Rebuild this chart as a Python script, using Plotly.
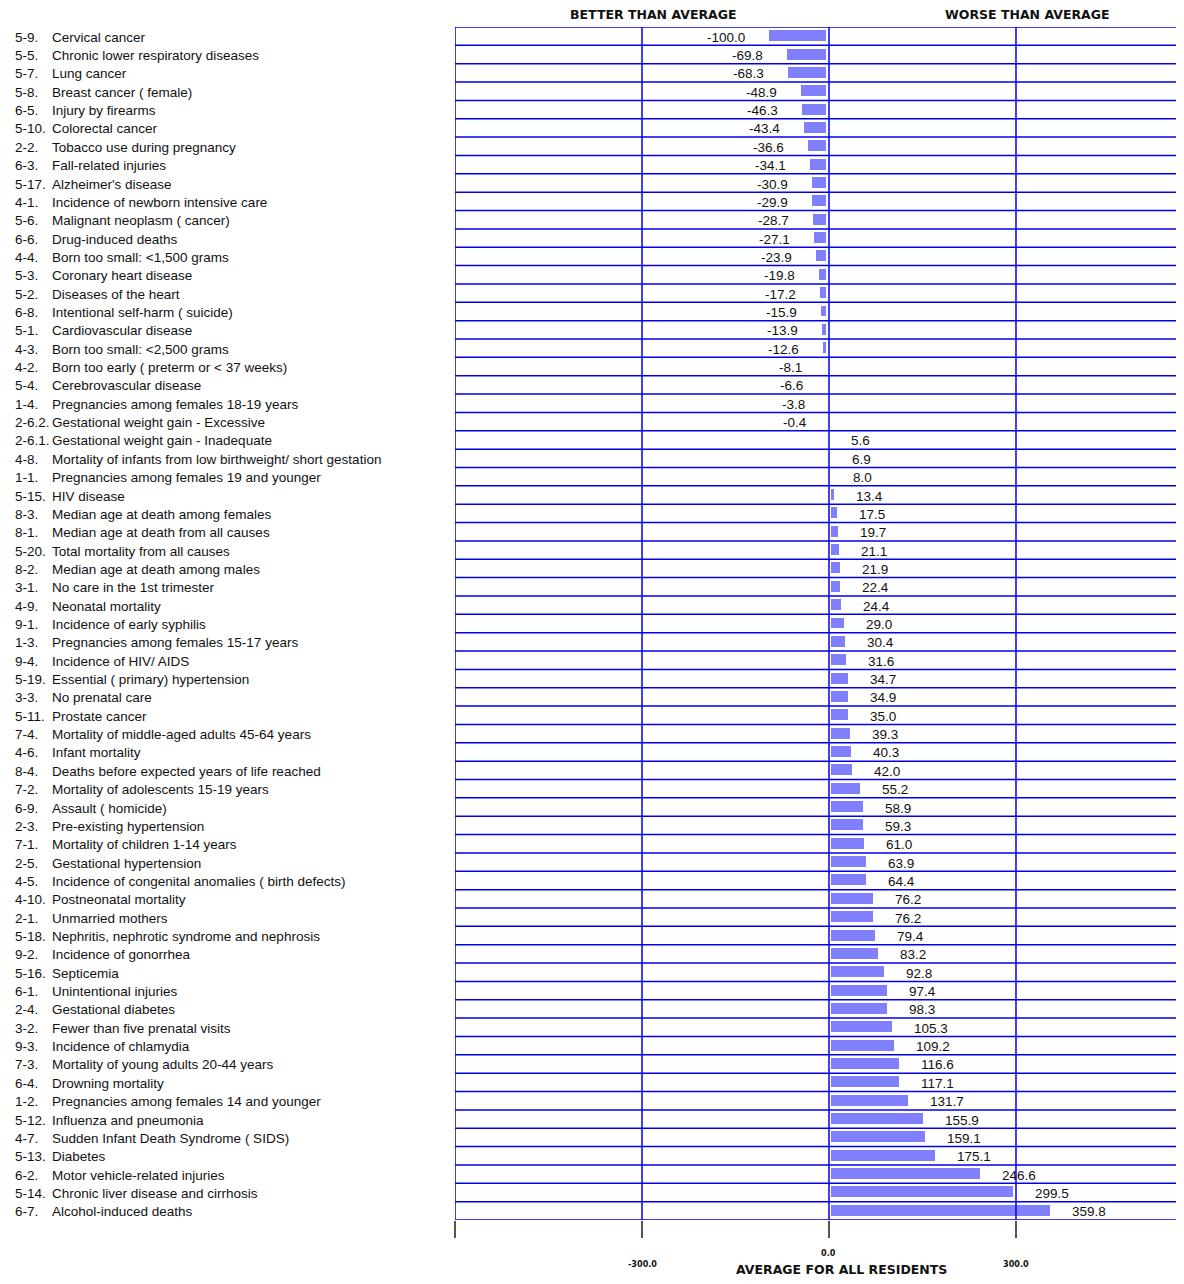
import plotly.graph_objects as go

codes = ["5-9.", "5-5.", "5-7.", "5-8.", "6-5.", "5-10.", "2-2.", "6-3.", "5-17.", "4-1.",
         "5-6.", "6-6.", "4-4.", "5-3.", "5-2.", "6-8.", "5-1.", "4-3.", "4-2.", "5-4.",
         "1-4.", "2-6.2.", "2-6.1.", "4-8.", "1-1.", "5-15.", "8-3.", "8-1.", "5-20.", "8-2.",
         "3-1.", "4-9.", "9-1.", "1-3.", "9-4.", "5-19.", "3-3.", "5-11.", "7-4.", "4-6.",
         "8-4.", "7-2.", "6-9.", "2-3.", "7-1.", "2-5.", "4-5.", "4-10.", "2-1.", "5-18.",
         "9-2.", "5-16.", "6-1.", "2-4.", "3-2.", "9-3.", "7-3.", "6-4.", "1-2.", "5-12.",
         "4-7.", "5-13.", "6-2.", "5-14.", "6-7."]

names = ["Cervical cancer", "Chronic lower respiratory diseases", "Lung cancer",
         "Breast cancer ( female)", "Injury by firearms", "Colorectal cancer",
         "Tobacco use during pregnancy", "Fall-related injuries", "Alzheimer's disease",
         "Incidence of newborn intensive care", "Malignant neoplasm ( cancer)",
         "Drug-induced deaths", "Born too small: <1,500 grams", "Coronary heart disease",
         "Diseases of the heart", "Intentional self-harm ( suicide)", "Cardiovascular disease",
         "Born too small: <2,500 grams", "Born too early ( preterm or < 37 weeks)",
         "Cerebrovascular disease", "Pregnancies among females 18-19 years",
         "Gestational weight gain - Excessive", "Gestational weight gain - Inadequate",
         "Mortality of infants from low birthweight/ short gestation",
         "Pregnancies among females 19 and younger", "HIV disease",
         "Median age at death among females", "Median age at death from all causes",
         "Total mortality from all causes", "Median age at death among males",
         "No care in the 1st trimester", "Neonatal mortality", "Incidence of early syphilis",
         "Pregnancies among females 15-17 years", "Incidence of HIV/ AIDS",
         "Essential ( primary) hypertension", "No prenatal care", "Prostate cancer",
         "Mortality of middle-aged adults 45-64 years", "Infant mortality",
         "Deaths before expected years of life reached", "Mortality of adolescents 15-19 years",
         "Assault ( homicide)", "Pre-existing hypertension", "Mortality of children 1-14 years",
         "Gestational hypertension", "Incidence of congenital anomalies ( birth defects)",
         "Postneonatal mortality", "Unmarried mothers",
         "Nephritis, nephrotic syndrome and nephrosis", "Incidence of gonorrhea", "Septicemia",
         "Unintentional injuries", "Gestational diabetes", "Fewer than five prenatal visits",
         "Incidence of chlamydia", "Mortality of young adults 20-44 years", "Drowning mortality",
         "Pregnancies among females 14 and younger", "Influenza and pneumonia",
         "Sudden Infant Death Syndrome ( SIDS)", "Diabetes", "Motor vehicle-related injuries",
         "Chronic liver disease and cirrhosis", "Alcohol-induced deaths"]

values = [-100.0, -69.8, -68.3, -48.9, -46.3, -43.4, -36.6, -34.1, -30.9, -29.9,
          -28.7, -27.1, -23.9, -19.8, -17.2, -15.9, -13.9, -12.6, -8.1, -6.6,
          -3.8, -0.4, 5.6, 6.9, 8.0, 13.4, 17.5, 19.7, 21.1, 21.9,
          22.4, 24.4, 29.0, 30.4, 31.6, 34.7, 34.9, 35.0, 39.3, 40.3,
          42.0, 55.2, 58.9, 59.3, 61.0, 63.9, 64.4, 76.2, 76.2, 79.4,
          83.2, 92.8, 97.4, 98.3, 105.3, 109.2, 116.6, 117.1, 131.7, 155.9,
          159.1, 175.1, 246.6, 299.5, 359.8]

tick_vals = [-600, -300, 0, 300]
tick_text = ["", "-300.0", "0.0", "300.0"]
x_range = [-600, 556.7]

BLUE = "#0000ee"
BAR = "#8080ff"
FONT = "Liberation Sans"
FS = 13.5

n = len(values)
rows = list(range(n))

fig = go.Figure()
fig.add_trace(go.Bar(
    x=values, y=rows, orientation="h", width=0.87,
    marker=dict(color=BAR, line=dict(color="white", width=5)),
    hoverinfo="skip",
))

shapes = []
for k in range(n + 1):
    shapes.append(dict(type="line", xref="paper", x0=0, x1=1, yref="y",
                       y0=k - 0.5, y1=k - 0.5, line=dict(color=BLUE, width=1.5),
                       layer="above"))
for tv in tick_vals:
    shapes.append(dict(type="line", xref="x", x0=tv, x1=tv, yref="paper",
                       y0=0, y1=1, line=dict(color=BLUE, width=1.5), layer="above"))

annotations = []
for i, (c, nm, v) in enumerate(zip(codes, names, values)):
    annotations.append(dict(xref="paper", x=0, xanchor="left", xshift=-442,
                            yref="y", y=i, yshift=-1, text=c, showarrow=False,
                            font=dict(family=FONT, size=FS, color="#111")))
    annotations.append(dict(xref="paper", x=0, xanchor="left", xshift=-405,
                            yref="y", y=i, yshift=-1, text=nm, showarrow=False,
                            font=dict(family=FONT, size=FS, color="#111")))
    annotations.append(dict(xref="x", x=v, xanchor="left" if v >= 0 else "right",
                            xshift=17 if v >= 0 else -20,
                            yref="y", y=i, yshift=-1, text=f"{v:.1f}", showarrow=False,
                            font=dict(family=FONT, size=FS, color="#111")))

for j, (tv, tt) in enumerate(zip(tick_vals, tick_text)):
    if not tt:
        continue
    annotations.append(dict(xref="x", x=tv, yref="paper", y=0, yanchor="middle",
                            yshift=-33 if j % 2 == 0 else -44, text=f"<b>{tt}</b>",
                            showarrow=False,
                            font=dict(family="DejaVu Sans Condensed", size=9, color="#111")))

annotations.append(dict(xref="x", x=20, yref="paper", y=0, yanchor="middle", yshift=-49,
                        text="<b>AVERAGE FOR ALL RESIDENTS</b>", showarrow=False,
                        font=dict(family="DejaVu Sans", size=12.5, color="#111")))
annotations.append(dict(xref="x", x=-282, yref="paper", y=1, yanchor="middle", yshift=13,
                        text="<b>BETTER THAN AVERAGE</b>", showarrow=False,
                        font=dict(family="DejaVu Sans", size=12.5, color="#111")))
annotations.append(dict(xref="x", x=319, yref="paper", y=1, yanchor="middle", yshift=13,
                        text="<b>WORSE THAN AVERAGE</b>", showarrow=False,
                        font=dict(family="DejaVu Sans", size=12.5, color="#111")))

fig.update_layout(
    width=1168, height=1268,
    margin=dict(l=447, r=0, t=19, b=56),
    plot_bgcolor="white", paper_bgcolor="white",
    showlegend=False, bargap=0,
    shapes=shapes, annotations=annotations,
    xaxis=dict(range=x_range, tickvals=tick_vals, showticklabels=False,
               ticks="outside", ticklen=17, tickwidth=1.5, tickcolor="#555",
               showgrid=False, zeroline=False, showline=False, fixedrange=True),
    yaxis=dict(range=[n - 0.5, -0.5], showticklabels=False, showgrid=False,
               zeroline=False, showline=False, ticks="", fixedrange=True),
)

fig.write_html("out.html")
